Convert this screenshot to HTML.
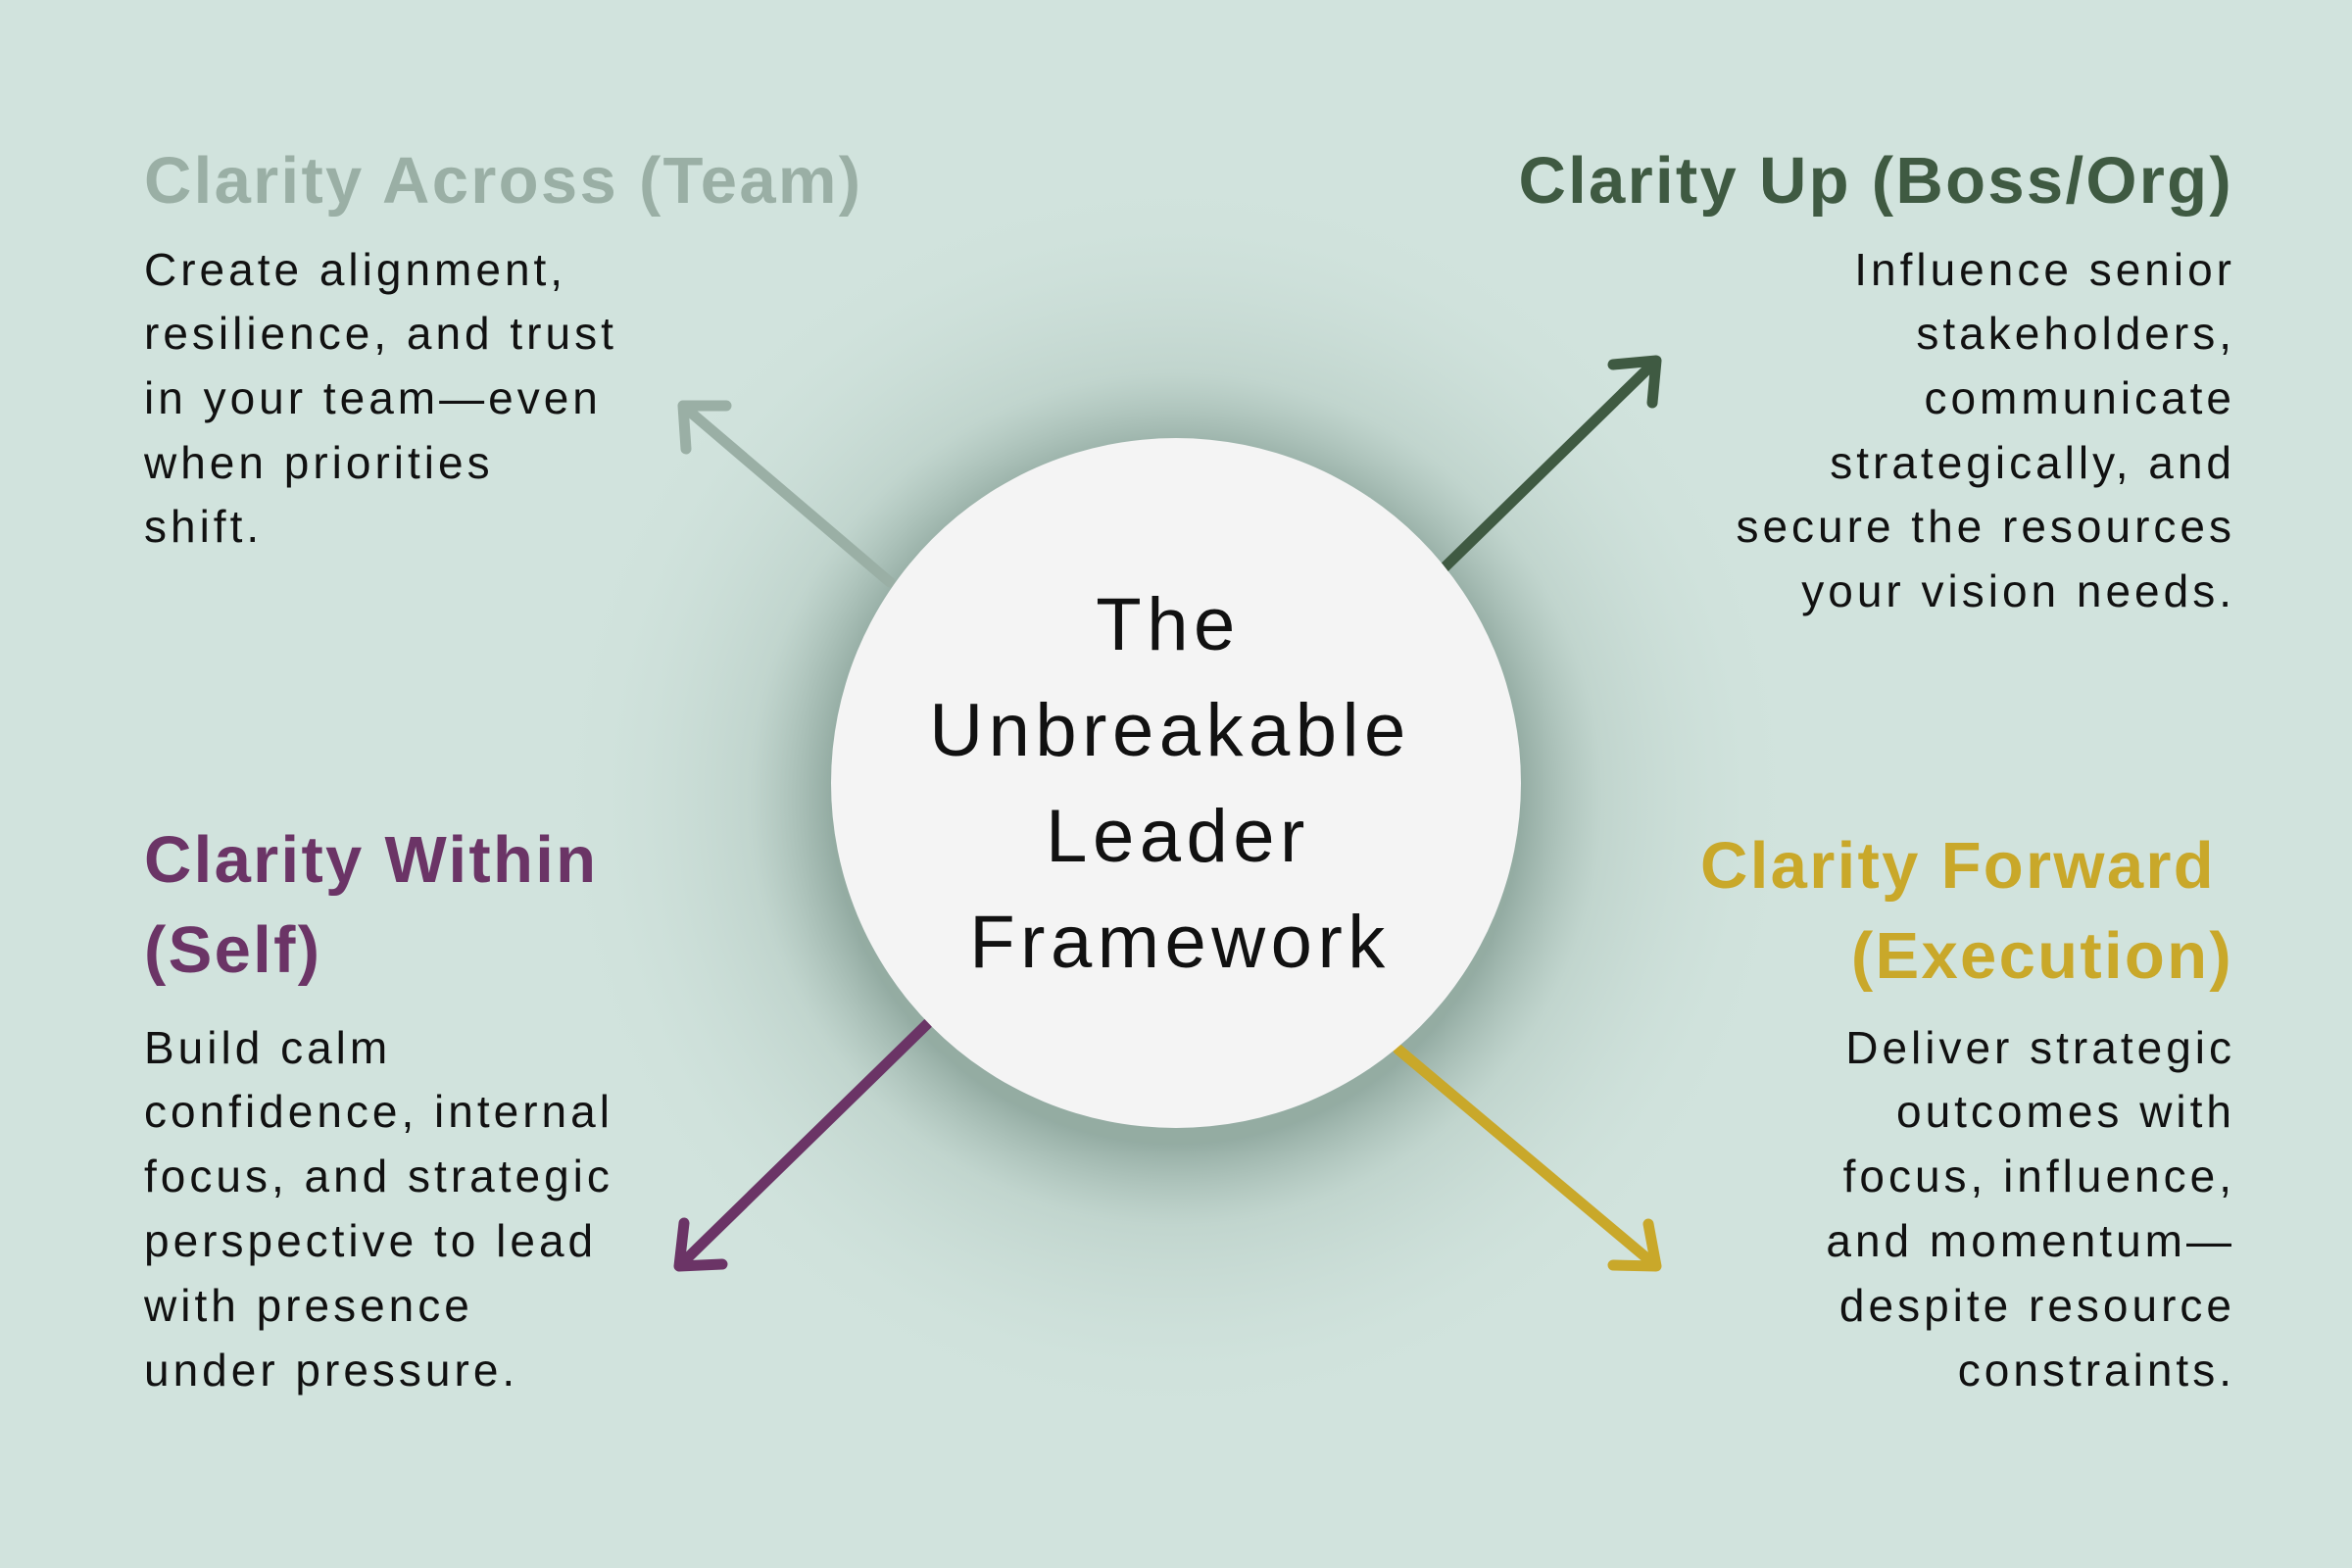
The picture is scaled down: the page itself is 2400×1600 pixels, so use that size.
<!DOCTYPE html>
<html><head><meta charset="utf-8"><style>
html,body{margin:0;padding:0;background:#d1e3dd;}
svg{display:block}
text{font-family:"Liberation Sans",sans-serif;}
</style></head><body>
<svg width="2400" height="1600" viewBox="0 0 2400 1600" xmlns="http://www.w3.org/2000/svg">
<defs>
<radialGradient id="glow" cx="0.5" cy="0.5" r="0.5">
<stop offset="0.55" stop-color="#7f998f" stop-opacity="0.75"/>
<stop offset="0.68" stop-color="#a9c0b7" stop-opacity="0.4"/>
<stop offset="1" stop-color="#d1e3dd" stop-opacity="0"/>
</radialGradient>
</defs>
<rect width="2400" height="1600" fill="#d1e3dd"/>
<circle cx="1200" cy="815" r="640" fill="url(#glow)"/>
<g stroke-width="11" fill="none" stroke-linecap="round" stroke-linejoin="round">
<g stroke="#9aafa5"><line x1="908" y1="594" x2="698" y2="415"/><polyline points="700,458 697,414 741,414"/></g>
<g stroke="#3f5a42"><line x1="1474" y1="579" x2="1689" y2="369"/><polyline points="1646,372 1690,368 1686,411"/></g>
<g stroke="#6b3466"><line x1="946" y1="1045" x2="694" y2="1291"/><polyline points="698,1248 693,1292 737,1290"/></g>
<g stroke="#c9a82a"><line x1="1427" y1="1071" x2="1689" y2="1291"/><polyline points="1646,1291 1690,1292 1682,1249"/></g>
</g>
<circle cx="1200" cy="799" r="352" fill="#f4f4f4"/>
<g font-size="76" fill="#111" text-anchor="middle" letter-spacing="5.5">
<text x="1192" y="663">The</text>
<text x="1194" y="771">Unbreakable</text>
<text x="1202" y="879">Leader</text>
<text x="1204" y="987">Framework</text>
</g>
<g font-size="67" font-weight="bold" letter-spacing="2.3">
<text x="147" y="207" fill="#9aafa5">Clarity Across (Team)</text>
<text x="2279" y="207" fill="#3f5a42" text-anchor="end">Clarity Up (Boss/Org)</text>
<text x="147" y="900" fill="#6b3466">Clarity Within</text>
<text x="147" y="992" fill="#6b3466">(Self)</text>
<text x="2261" y="906" fill="#c9a82a" text-anchor="end">Clarity Forward</text>
<text x="2279" y="998" fill="#c9a82a" text-anchor="end">(Execution)</text>
</g>
<g font-size="46" fill="#111" letter-spacing="4">
<text x="147" y="291">Create alignment,</text>
<text x="147" y="356">resilience, and trust</text>
<text x="147" y="422">in your team—even</text>
<text x="147" y="488">when priorities</text>
<text x="147" y="553">shift.</text>
<text x="147" y="1085">Build calm</text>
<text x="147" y="1150">confidence, internal</text>
<text x="147" y="1216">focus, and strategic</text>
<text x="147" y="1282">perspective to lead</text>
<text x="147" y="1348">with presence</text>
<text x="147" y="1414">under pressure.</text>
</g>
<g font-size="46" fill="#111" text-anchor="end" letter-spacing="4">
<text x="2281" y="291">Influence senior</text>
<text x="2281" y="356">stakeholders,</text>
<text x="2281" y="422">communicate</text>
<text x="2281" y="488">strategically, and</text>
<text x="2281" y="553">secure the resources</text>
<text x="2281" y="619">your vision needs.</text>
<text x="2281" y="1085">Deliver strategic</text>
<text x="2281" y="1150">outcomes with</text>
<text x="2281" y="1216">focus, influence,</text>
<text x="2281" y="1282">and momentum—</text>
<text x="2281" y="1348">despite resource</text>
<text x="2281" y="1414">constraints.</text>
</g>
</svg>
</body></html>
